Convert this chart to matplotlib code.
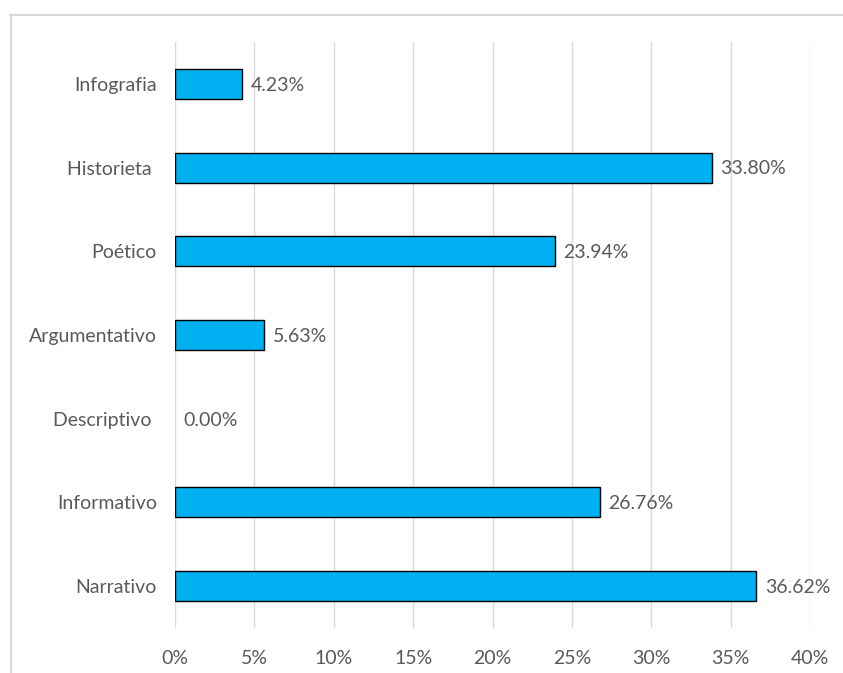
import matplotlib
matplotlib.use("Agg")
import matplotlib.pyplot as plt
from matplotlib.lines import Line2D

categories = ["Narrativo", "Informativo", "Descriptivo ", "Argumentativo", "Poético", "Historieta ", "Infografia"]
values = [36.62, 26.76, 0.00, 5.63, 23.94, 33.80, 4.23]
xticks = [0, 5, 10, 15, 20, 25, 30, 35, 40]
xticklabels = [f"{t}%" for t in xticks]

plt.rcParams['font.family'] = ['Lato', 'DejaVu Sans']
txt = '#595959'
fs = 14

fig = plt.figure(figsize=(8.43, 6.73), dpi=100)
ax = fig.add_axes([175/843, 1-628/673, 635/843, 586/673])

ypos = list(range(len(categories)))
lws = [1.0 if v > 0 else 0 for v in values]
ax.barh(ypos, values, height=0.36, color='#00B0F0', edgecolor='black', linewidth=lws, zorder=3)
for y, v in zip(ypos, values):
    ax.annotate(f"{v:.2f}%", (v, y), xytext=(6, -1), textcoords='offset points',
                va='center', ha='left', fontsize=fs, color=txt)

ax.set_xlim(0, 40)
ax.set_ylim(-0.5, 6.5)
ax.set_xticks(xticks)
ax.set_xticklabels(xticklabels, fontsize=fs, color=txt)
ax.set_yticks(ypos)
ax.set_yticklabels(categories, fontsize=fs, color=txt)
ax.tick_params(axis='both', length=0)
ax.tick_params(axis='y', pad=13)
ax.tick_params(axis='x', pad=16)
ax.grid(axis='x', color='#D9D9D9', linewidth=1, zorder=0)
for s in ax.spines.values():
    s.set_visible(False)

fig.add_artist(Line2D([10/843, 1], [1-15/673, 1-15/673], color='#D9D9D9', linewidth=1.5, transform=fig.transFigure))
fig.add_artist(Line2D([11/843, 11/843], [0, 1-15/673], color='#D9D9D9', linewidth=1.5, transform=fig.transFigure))

fig.savefig("out.png", dpi=100)
